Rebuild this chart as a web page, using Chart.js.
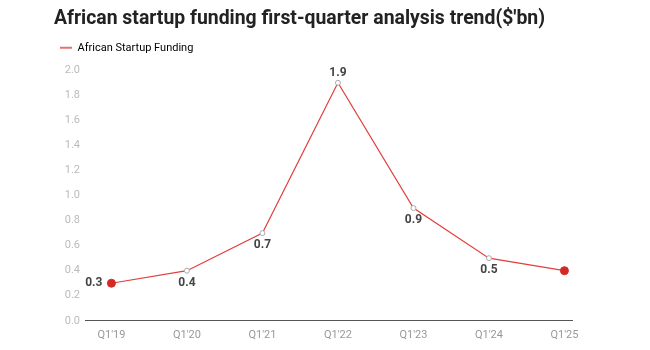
<!DOCTYPE html>
<html>
<head>
<meta charset="utf-8">
<script src="https://cdn.jsdelivr.net/npm/chart.js@4.4.1/dist/chart.umd.min.js"></script>
<style>
  html, body { margin: 0; padding: 0; background: #fff; }
  #wrap { width: 650px; height: 350px; }
</style>
</head>
<body>
<div id="wrap"><canvas id="funding-chart" width="650" height="350"></canvas></div>
<script>
// data
var quarters = ["Q1'19", "Q1'20", "Q1'21", "Q1'22", "Q1'23", "Q1'24", "Q1'25"];
var funding = [0.3, 0.4, 0.7, 1.9, 0.9, 0.5, 0.4];
// where each value label goes (relative to its point)
var labelPos = ["left", "below", "below", "above", "below", "below", "none"];

var red = "#e2403c";
var lastIdx = funding.length - 1;

// value labels drawn next to the points
var valueLabels = {
  id: "valueLabels",
  afterInit: function (chart) {
    // a bit more room under the legend
    var lg = chart.legend;
    var fit = lg.fit;
    lg.fit = function () {
      fit.call(this);
      this.height += 7;
    };
  },
  afterDatasetsDraw: function (chart) {
    var c = chart.ctx;
    var meta = chart.getDatasetMeta(0);
    c.save();
    c.font = "bold 12px Roboto";
    c.fillStyle = "#444";
    meta.data.forEach(function (pt, i) {
      var txt = funding[i].toFixed(1);
      var pos = labelPos[i];
      if (pos === "none") return;
      if (pos === "left") {
        c.textAlign = "right"; c.textBaseline = "middle";
        c.fillText(txt, pt.x - 9, pt.y);
      } else if (pos === "above") {
        c.textAlign = "center"; c.textBaseline = "bottom";
        c.fillText(txt, pt.x, pt.y - 4);
      } else {
        c.textAlign = "center"; c.textBaseline = "top";
        c.fillText(txt, pt.x, pt.y + 6);
      }
    });
    c.restore();
  }
};

var ctx = document.getElementById("funding-chart").getContext("2d");
var myFundingChart = new Chart(ctx, {
  type: "line",
  data: {
    datasets: [
      {
        label: "African Startup Funding",
        data: funding.map(function (v, i) { return { x: i, y: v }; }),
        borderColor: red,
        borderWidth: 1.2,
        backgroundColor: red,
        tension: 0,
        pointRadius: funding.map(function (v, i) { return (i === 0 || i === lastIdx) ? 4 : 2.5; }),
        pointBackgroundColor: funding.map(function (v, i) { return (i === 0 || i === lastIdx) ? "#d42a26" : "#fff"; }),
        pointBorderColor: funding.map(function (v, i) { return (i === 0 || i === lastIdx) ? "#d42a26" : "#aaa"; }),
        pointBorderWidth: 1,
      },
    ],
  },
  options: {
    responsive: false,
    animation: false,
    layout: {
      padding: { left: 54, right: 78, top: 8, bottom: 0 },
    },
    scales: {
      x: {
        type: "linear",
        min: -0.35,
        max: 6.1,
        grid: { display: false, drawTicks: false },
        border: { display: true, color: "#555", width: 1 },
        ticks: {
          stepSize: 1,
          includeBounds: false,
          autoSkip: false,
          maxRotation: 0,
          padding: 8,
          color: "#999",
          font: { family: "Roboto", size: 11 },
          callback: function (v) { return quarters[v] || ""; },
        },
      },
      y: {
        min: 0,
        max: 2,
        grid: { display: false, drawTicks: false },
        border: { display: false },
        afterFit: function (scale) { scale.width = 31; },
        ticks: {
          stepSize: 0.2,
          padding: 5,
          color: "#bbb",
          font: { family: "Roboto", size: 11 },
          callback: function (v) { return v.toFixed(1); },
        },
      },
    },
    plugins: {
      title: {
        display: true,
        text: "African startup funding first-quarter analysis trend($'bn)",
        align: "start",
        color: "#222",
        font: { family: "Roboto", size: 19.4, weight: "bold" },
        padding: { top: 0, bottom: 5 },
      },
      legend: {
        display: true,
        position: "top",
        align: "start",
        labels: {
          boxWidth: 12,
          boxHeight: 2,
          padding: 6,
          color: "#555",
          font: { family: "Roboto", size: 11 },
          generateLabels: function (chart) {
            return [{
              text: "African Startup Funding",
              fillStyle: "#e8706c",
              strokeStyle: "#e8706c",
              lineWidth: 0,
              datasetIndex: 0,
            }];
          },
        },
      },
      tooltip: { enabled: false },
    },
  },
  plugins: [valueLabels],
});
</script>
</body>
</html>
